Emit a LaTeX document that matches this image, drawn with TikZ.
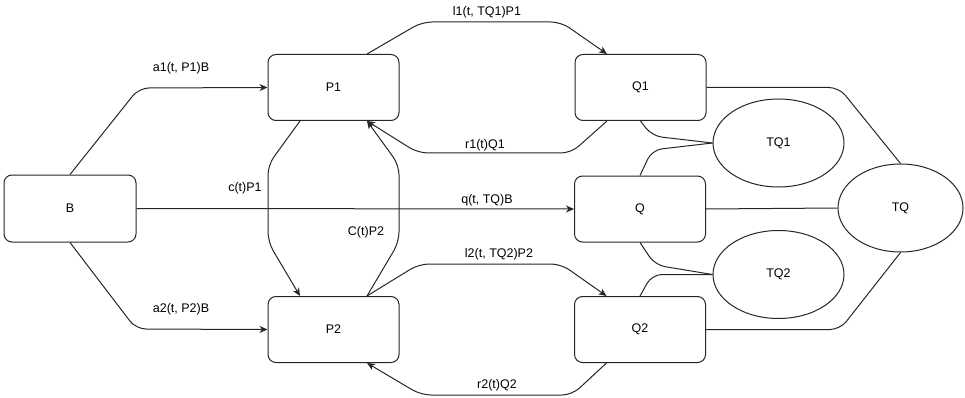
\documentclass[tikz,border=0pt]{standalone}
\usepackage{fontspec}
\setmainfont{Liberation Sans}
\usetikzlibrary{arrows.meta,shapes.geometric}
\begin{document}
\begin{tikzpicture}[x=1pt,y=-1pt,
  font=\fontsize{12.5}{15}\selectfont,
  box/.style={draw=black!85, line width=1pt, rounded corners=8pt,
    minimum width=131pt, minimum height=66pt, inner sep=0pt},
  oval/.style={draw=black!85, line width=1pt, ellipse,
    minimum width=131pt, minimum height=88pt, inner sep=0pt},
  link/.style={draw=black!85, line width=1pt, rounded corners=10pt},
  flow/.style={link, -{Stealth[length=8pt,width=7pt,inset=2.5pt]}},
  lbl/.style={inner sep=0pt}]
\useasboundingbox (0,0) rectangle (965,398);

% states
\node[box, minimum width=132pt, minimum height=67pt] (B) at (70,208.5) {B};
\node[box] (P1) at (333.5,87.5) {P1};
\node[box] (P2) at (333.5,329.5) {P2};
\node[box] (Q1) at (640.5,87.5) {Q1};
\node[box] (Q)  at (640,209) {Q};
\node[box] (Q2) at (640,329.5) {Q2};
\node[oval] (TQ1) at (778.5,143) {TQ1};
\node[oval] (TQ2) at (778.5,274.5) {TQ2};
\node[oval, minimum width=125pt] (TQ) at (900.5,208) {TQ};

% arrivals from B
\draw[flow] (B.north) -- (139,88) -- (P1.west);
\draw[flow] (B.south) -- (136,329) -- (P2.west);
\draw[flow] (B.east) -- (Q.west);

% exchanges between P1 and P2
\draw[flow] ([xshift=-33.5pt]P1.south) -- (268,165) -- (268,242) -- ([xshift=-33.5pt]P2.north);
\draw[flow] ([xshift=33.5pt]P2.north) -- (399,242) -- (399,165) -- ([xshift=33.5pt]P1.south);

% upper loop P1 <-> Q1
\draw[flow] ([xshift=33.5pt]P1.north) -- (422,22) -- (561,22) -- ([xshift=-33.5pt]Q1.north);
\draw[flow] ([xshift=-33.5pt]Q1.south) -- (571,153) -- (418,153) -- ([xshift=33.5pt]P1.south);

% lower loop P2 <-> Q2
\draw[flow] ([xshift=33.5pt]P2.north) -- (419,264) -- (561,264) -- ([xshift=-33.5pt]Q2.north);
\draw[flow] ([xshift=-33.5pt]Q2.south) -- (572,395) -- (421,395) -- ([xshift=33.5pt]P2.south);

% links to the totals
\draw[link] (Q1.east) -- (839,87.5) -- (TQ.north);
\draw[link] (Q2.east) -- (840,329.5) -- (TQ.south);
\draw[link] (Q.east) -- (TQ.west);
\draw[link] (Q1.south) -- (652,136) -- (TQ1.west);
\draw[link] (Q.north) -- (652,150) -- (TQ1.west);
\draw[link] (Q.south) -- (655,265) -- (TQ2.west);
\draw[link] (Q2.north) -- (652,274.5) -- (TQ2.west);

% rates
\node[lbl] (la1) at (181,68) {a1(t, P1)B};
\node[lbl] (la2) at (181,309) {a2(t, P2)B};
\node[lbl] (lc) at (245,188) {c(t)P1};
\node[lbl] (lC) at (366,232) {C(t)P2};
\node[lbl] (ll1) at (487,12) {l1(t, TQ1)P1};
\node[lbl] (lr1) at (485,145) {r1(t)Q1};
\node[lbl] (lq) at (487,200) {q(t, TQ)B};
\node[lbl] (ll2) at (499,254) {l2(t, TQ2)P2};
\node[lbl] (lr2) at (497,385) {r2(t)Q2};
\end{tikzpicture}
\end{document}
